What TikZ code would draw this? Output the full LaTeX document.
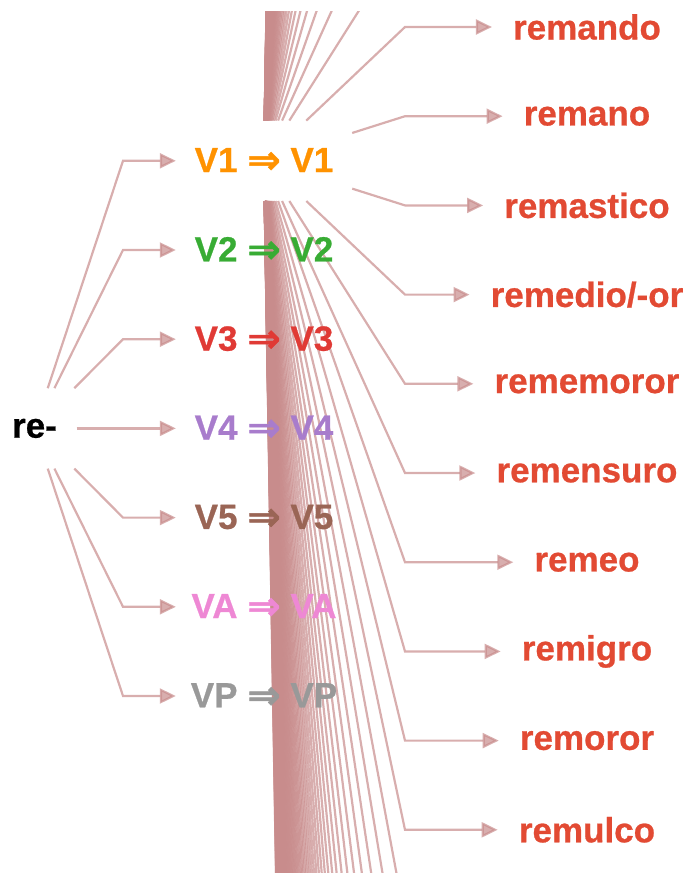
\documentclass[tikz,border=0pt]{standalone}
\usepackage{fontspec}
\setmainfont{Liberation Sans}[BoldFeatures={FakeBold=0.7}]
\newfontfamily\arrfont{DejaVu Sans}[BoldFeatures={FakeBold=1.2}]
\usetikzlibrary{arrows.meta}
\pgfdeclarelayer{background}
\pgfsetlayers{background,main}
\definecolor{linkc}{RGB}{200,140,140}
\definecolor{wordc}{RGB}{226,74,51}
\definecolor{cvone}{RGB}{255,146,0}
\definecolor{cvtwo}{RGB}{56,172,52}
\definecolor{cvthree}{RGB}{224,58,53}
\definecolor{cvfour}{RGB}{168,124,204}
\definecolor{cvfive}{RGB}{154,101,85}
\definecolor{cva}{RGB}{238,136,212}
\definecolor{cvp}{RGB}{153,153,153}
\newcommand{\vlab}[1]{#1\ \raisebox{-1.5pt}{\arrfont\fontsize{40}{40}\selectfont ⇒}\ #1}
\begin{document}
\begin{tikzpicture}[x=1pt,y=-1pt,
  lbl/.style={font=\fontsize{35}{40}\selectfont\bfseries, inner sep=0pt},
  vbox/.style={lbl, minimum width=176pt, minimum height=80pt},
  wbox/.style={lbl, text=wordc, inner xsep=21pt, minimum height=40pt},
  link/.style={draw=linkc, line width=2.2pt, opacity=0.7, -{Triangle[length=16pt,width=15pt]}},
]
\useasboundingbox (0,0) rectangle (691,873);
% root
\node[lbl, minimum width=84pt, minimum height=80pt] (re) at (34.5,428.4) {re-};
% V nodes
\node[vbox, text=cvone]   (v1) at (264,160.8) {\vlab{V1}};
\node[vbox, text=cvtwo]   (v2) at (264,250.0) {\vlab{V2}};
\node[vbox, text=cvthree] (v3) at (264,339.2) {\vlab{V3}};
\node[vbox, text=cvfour]  (v4) at (264,428.4) {\vlab{V4}};
\node[vbox, text=cvfive]  (v5) at (264,517.6) {\vlab{V5}};
\node[vbox, text=cva]     (v6) at (264,606.8) {\vlab{VA}};
\node[vbox, text=cvp]     (v7) at (264,696.0) {\vlab{VP}};
% words
\foreach \w [count=\k from 0] in {remando,remano,remastico,remedio/-or,rememoror,remensuro,remeo,remigro,remoror,remulco}
  \node[wbox] (w\k) at (587,27+89.2*\k) {\w};
\begin{pgfonlayer}{background}
\coordinate (rx) at (123,0);
\foreach \i in {1,...,7}
  \draw[link] (re) -- (rx |- v\i.west) -- (v\i.west);
\begin{scope}
\clip (0,11) rectangle (691,873);
\coordinate (ex) at (405,0);
\foreach \k in {0,...,9}
  \draw[link] (v1) -- (ex |- w\k.west) -- (w\k.west);
\foreach \k in {-92,...,-1} {
  \coordinate (t) at (492,27+89.2*\k);
  \draw[link] (v1) -- (ex |- t) -- (t);
}
\foreach \k in {10,...,95} {
  \coordinate (t) at (492,27+89.2*\k);
  \draw[link] (v1) -- (ex |- t) -- (t);
}
\end{scope}
\end{pgfonlayer}
\end{tikzpicture}
\end{document}
